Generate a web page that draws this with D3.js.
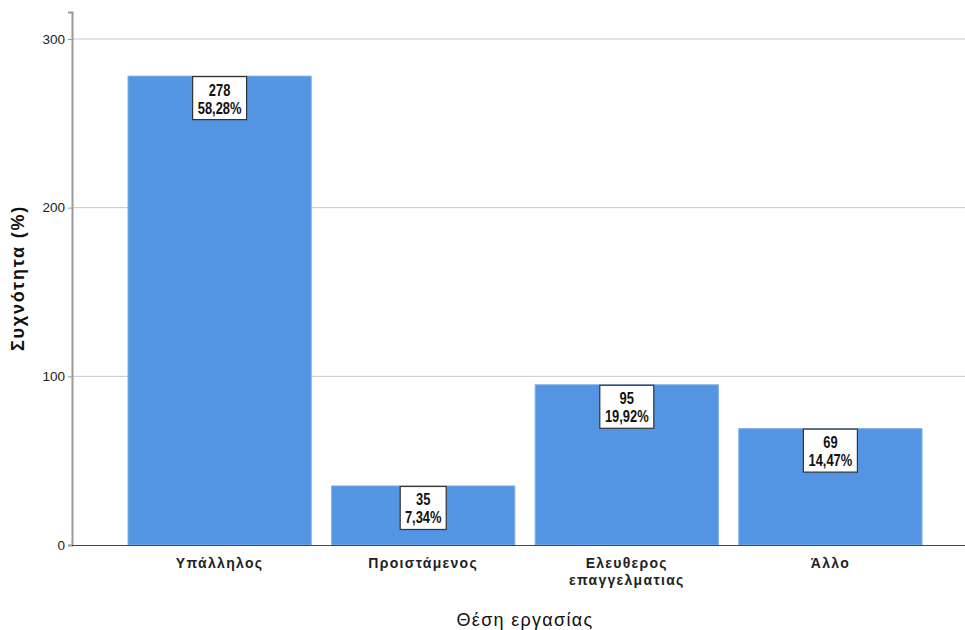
<!DOCTYPE html>
<html>
<head>
<meta charset="utf-8">
<script src="https://cdn.jsdelivr.net/npm/d3@7"></script>
<style>
  body { margin: 0; background: #fff; }
  svg { display: block; }
</style>
</head>
<body>
<svg id="chart" width="965" height="630"></svg>
<script>
// Job position frequencies
const categories = ["Υπάλληλος", "Προιστάμενος", "Ελευθερος επαγγελματιας", "Άλλο"];
const counts = [278, 35, 95, 69];
const percents = ["58,28%", "7,34%", "19,92%", "14,47%"];
const yTicks = [0, 100, 200, 300];

const svg = d3.select("#chart");
const margin = { left: 72, top: 12 };
const W = 965;
const plotBottom = 545;

const x = d3.scaleBand()
  .domain(categories)
  .range([128, 922])
  .paddingInner(0.1)
  .paddingOuter(0);

const y = d3.scaleLinear().domain([0, 316]).range([plotBottom, margin.top]);

const textFont = "'Liberation Sans', Arial, sans-serif";

// gridlines
svg.append("g")
  .selectAll("line")
  .data(yTicks.filter(d => d > 0))
  .join("line")
  .attr("x1", margin.left).attr("x2", W)
  .attr("y1", d => y(d)).attr("y2", d => y(d))
  .attr("stroke", "#c8c8c8").attr("stroke-width", 1);

// y axis
const yAxis = svg.append("g")
  .attr("transform", `translate(${margin.left},0)`)
  .call(d3.axisLeft(y).tickValues(yTicks).tickSize(4).tickPadding(3));
yAxis.select(".domain").attr("stroke", "#9a9a9a").attr("stroke-width", 2);
yAxis.selectAll(".tick line").attr("stroke", "#9a9a9a");
yAxis.selectAll(".tick text")
  .attr("font-family", textFont).attr("font-size", 13.5).attr("fill", "#222");

const rows = categories.map((c, i) => ({ c, v: counts[i], p: percents[i] }));

// bars
svg.append("g")
  .selectAll("rect")
  .data(rows)
  .join("rect")
  .attr("x", d => x(d.c))
  .attr("y", d => y(d.v))
  .attr("width", x.bandwidth())
  .attr("height", d => y(0) - y(d.v))
  .attr("fill", "#5394e3")
  .attr("stroke", "#7fb0ec")
  .attr("stroke-width", 1);

// x axis baseline
svg.append("line")
  .attr("x1", margin.left).attr("x2", W)
  .attr("y1", plotBottom + 0.5).attr("y2", plotBottom + 0.5)
  .attr("stroke", "#444").attr("stroke-width", 1);

// value labels: boxed count and percentage at the top of each bar
const lab = svg.append("g")
  .selectAll("g")
  .data(rows)
  .join("g")
  .attr("transform", d => `translate(${x(d.c) + x.bandwidth() / 2},${y(d.v)})`);

lab.each(function (d) {
  const g = d3.select(this);
  const w = d.p.length > 5 ? 54 : 46;
  g.append("rect")
    .attr("x", -w / 2).attr("y", 0.5)
    .attr("width", w).attr("height", 43)
    .attr("fill", "#fff").attr("stroke", "#333").attr("stroke-width", 1.2);
  const t = g.append("g").attr("transform", "scale(0.76,1)");
  t.append("text").text(d.v)
    .attr("text-anchor", "middle").attr("y", 19.5)
    .attr("font-family", textFont).attr("font-weight", "bold")
    .attr("font-size", 17).attr("fill", "#111");
  t.append("text").text(d.p)
    .attr("text-anchor", "middle").attr("y", 37.5)
    .attr("font-family", textFont).attr("font-weight", "bold")
    .attr("font-size", 17).attr("fill", "#111");
});

// category labels
svg.append("g")
  .selectAll("text")
  .data(categories)
  .join("text")
  .attr("x", d => x(d) + x.bandwidth() / 2)
  .attr("y", 568)
  .attr("text-anchor", "middle")
  .attr("font-family", textFont).attr("font-weight", "bold")
  .attr("font-size", 14).attr("fill", "#222")
  .attr("letter-spacing", 1.3)
  .each(function (d) {
    const words = d.split(" ");
    const t = d3.select(this);
    const cx = x(d) + x.bandwidth() / 2;
    if (words.length > 1) {
      t.append("tspan").attr("x", cx).attr("dy", 0).text(words[0]);
      t.append("tspan").attr("x", cx).attr("dy", 17).text(words.slice(1).join(" "));
    } else {
      t.text(d);
    }
  });

// axis titles
svg.append("text")
  .attr("x", 525).attr("y", 626)
  .attr("text-anchor", "middle")
  .attr("font-family", textFont).attr("font-size", 18).attr("font-weight", 500)
  .attr("letter-spacing", 1.3).attr("fill", "#111")
  .text("Θέση εργασίας");

svg.append("text")
  .attr("transform", "translate(24,278) rotate(-90)")
  .attr("text-anchor", "middle")
  .attr("font-family", textFont).attr("font-weight", "bold")
  .attr("font-size", 18).attr("letter-spacing", 1.8).attr("fill", "#111")
  .text("Συχνότητα (%)");
</script>
</body>
</html>
